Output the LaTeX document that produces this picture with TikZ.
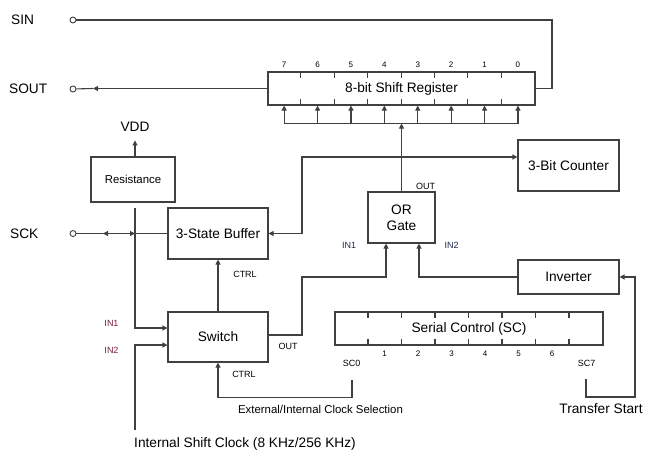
\documentclass[tikz,border=0pt]{standalone}
\usepackage{fontspec}
\setmainfont{Liberation Sans}
\usetikzlibrary{arrows.meta,calc}
\newcommand\fBig{\fontsize{13.7}{16}\selectfont}
\newcommand\fMid{\fontsize{11.4}{13}\selectfont}
\newcommand\fSm{\fontsize{9}{10}\selectfont}
\newcommand\fTiny{\fontsize{8}{9}\selectfont}
\definecolor{lncol}{gray}{0.25}
\definecolor{maroon}{RGB}{120,30,50}
\definecolor{navy}{RGB}{30,40,80}
\tikzset{
  wire/.style={draw=lncol,line width=1.1pt},
  arr/.style={-{Triangle[length=5pt,width=5pt]}},
  dblarr/.style={{Triangle[length=5pt,width=5pt]}-{Triangle[length=5pt,width=5pt]}},
  box/.style={draw=lncol,line width=1.1pt,rectangle,inner sep=0pt,font=\fBig,align=center},
  port/.style={circle,draw=lncol,line width=0.9pt,fill=white,inner sep=0pt,minimum size=6pt},
  lbl/.style={inner sep=0pt,font=\fBig},
  small/.style={inner sep=0pt,font=\fSm},
  tiny/.style={inner sep=0pt,font=\fTiny},
}
\begin{document}
\begin{tikzpicture}[x=1pt,y=-1pt]
\useasboundingbox (0,0) rectangle (656,456);

% boxes
\node[box,minimum width=267pt,minimum height=33pt] (reg) at (401.5,88.5) {8-bit Shift Register};
\node[box,minimum width=84pt,minimum height=45pt,font=\fMid] (res) at (133,179.5) {Resistance};
\node[box,minimum width=100pt,minimum height=51pt] (buf) at (218,233.5) {3-State Buffer};
\node[box,minimum width=100pt,minimum height=50pt] (sw) at (218,337) {Switch};
\node[box,minimum width=67pt,minimum height=51pt] (or) at (401.5,217.5) {OR\\Gate};
\node[box,minimum width=101pt,minimum height=51pt] (cnt) at (568.5,165.5) {3-Bit Counter};
\node[box,minimum width=101pt,minimum height=34pt] (inv) at (568.5,277) {Inverter};
\node[box,minimum width=268pt,minimum height=33pt] (sc) at (469,328.5) {Serial Control (SC)};

% register ticks and bit numbers
\foreach \i in {1,...,7} {
  \draw[wire] ($(reg.north west)+(33.4*\i,0)$) -- ++(0,6.5);
  \draw[wire] ($(reg.south west)+(33.4*\i,0)$) -- ++(0,-6.5);
}
\foreach \i/\b in {0/7,1/6,2/5,3/4,4/3,5/2,6/1,7/0} {
  \node[tiny] (rb\i) at ($(reg.north west)+(16.7+33.4*\i,-6.5)$) {\b};
  \draw[wire,arr] ($(reg.south west)+(16.7+33.4*\i,18)$) -- ($(reg.south west)+(16.7+33.4*\i,0)$);
}
\draw[wire] ($(reg.south west)+(16.7,18)$) -- ($(reg.south west)+(250.5,18)$);
\coordinate (bus) at ($(reg.south)+(0,18)$);

% serial control ticks and numbers
\foreach \i in {1,...,7} {
  \draw[wire] ($(sc.north west)+(33.5*\i,0)$) -- ++(0,6.5);
  \draw[wire] ($(sc.south west)+(33.5*\i,0)$) -- ++(0,-6.5);
}
\foreach \i in {1,...,6} {
  \node[tiny] (scb\i) at ($(sc.south west)+(16.75+33.5*\i,8)$) {\i};
}

% ports and labels
\node[port] (sin) at (73,20) {};
\node[port] (sout) at (73,89) {};
\node[port] (sck) at (73,233.5) {};
\node[lbl,anchor=west] (sinl) at (11,20) {SIN};
\node[lbl,anchor=west] (soutl) at (9,89) {SOUT};
\node[lbl,anchor=west] (sckl) at (10,234) {SCK};
\node[lbl] (vdd) at (135,127) {VDD};

% SIN
\coordinate (sinc) at (552,20);
\draw[wire] (sin) -- (sinc) |- (reg.east);
% SOUT
\coordinate (soutarr) at (93,88.5);
\draw[wire,arr] (reg.west) -- (soutarr);
\draw[wire] (soutarr) -- (sout);
% VDD
\draw[wire,arr] (res.north -| vdd) -- ++(0,-16);
% OR to bus
\draw[wire,arr] (or.north) -- (bus);
% buffer <-> counter
\coordinate (k) at (302,157);
\draw[wire,dblarr] (buf.east) -| (k) -- ($(cnt.west)+(0,-8.5)$);
% SCK
\coordinate (sckL) at (103,233.5);
\coordinate (sckJ) at (135,233.5);
\draw[wire,arr] (buf.west) -- (sckL);
\draw[wire] (sckL) -- (sck);
\draw[wire,arr] (sck) -- (sckJ);
% vertical to switch IN1
\coordinate (vtop) at (135,208);
\draw[wire,arr] (vtop) |- ($(sw.west)+(0,-9)$);
% internal shift clock to IN2
\coordinate (isc) at (135,430);
\draw[wire,arr] (isc) |- ($(sw.west)+(0,8)$);
% switch to buffer CTRL
\draw[wire,arr] (sw.north) -- (buf.south);
% switch OUT to OR IN1
\coordinate (m1) at (302,277);
\draw[wire,arr] ($(sw.east)+(0,-2)$) -| (m1) -| ($(or.south)+(-15.5,0)$);
% inverter to OR IN2
\draw[wire,arr] (inv.west) -| ($(or.south)+(17.5,0)$);
% SC0 to switch CTRL
\coordinate (sc0) at (352,380);
\draw[wire,arr] (sc0) |- ($(sw.south)+(0,35)$) -- (sw.south);
% SC7 to inverter
\coordinate (sc7) at (586,379);
\coordinate (sc7b) at (635,397);
\draw[wire,arr] (sc7) |- (sc7b) |- (inv.east);

% small labels
\node[small] (ctrl1) at (245,274) {CTRL};
\node[small] (ctrl2) at (244,374) {CTRL};
\node[small] (outsw) at (288,346) {OUT};
\node[small] (outor) at (425.5,186) {OUT};
\node[small,text=navy] (in1or) at (349,245) {IN1};
\node[small,text=navy] (in2or) at (451.5,245) {IN2};
\node[small,text=maroon] (in1sw) at (111.5,323) {IN1};
\node[small,text=maroon] (in2sw) at (111.5,350) {IN2};
\node[small] (sc0l) at (351.5,363) {SC0};
\node[small] (sc7l) at (586.5,363) {SC7};

% long labels
\node[inner sep=0pt,font=\fMid] (ext) at (320.5,409) {External/Internal Clock Selection};
\node[lbl] (ts) at (601,409) {Transfer Start};
\node[lbl,anchor=west] (isck) at (134,444) {Internal Shift Clock (8 KHz/256 KHz)};
\end{tikzpicture}
\end{document}
